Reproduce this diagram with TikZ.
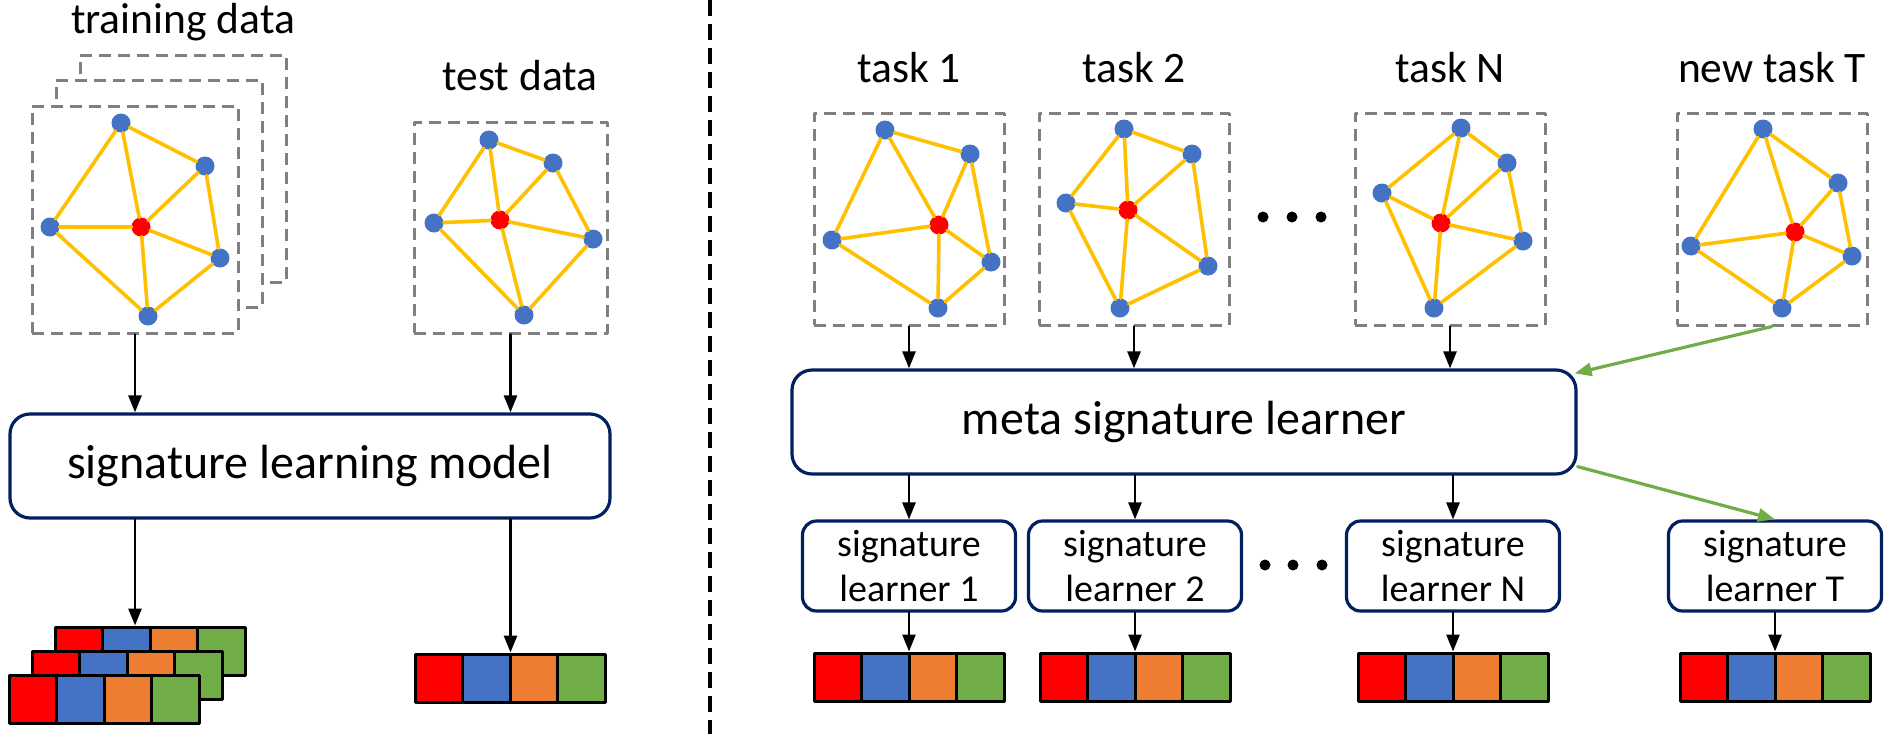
\documentclass[tikz,border=0pt]{standalone}
\usepackage{fontspec}
\setmainfont{Carlito}
\usepackage{tikz}
\usetikzlibrary{arrows.meta,calc}

\definecolor{sred}{RGB}{255,0,0}
\definecolor{sblue}{RGB}{68,114,196}
\definecolor{sorange}{RGB}{237,125,49}
\definecolor{sgreen}{RGB}{112,173,71}
\definecolor{sgold}{RGB}{255,192,0}
\definecolor{snavy}{RGB}{0,32,96}
\definecolor{sgray}{RGB}{127,127,127}

% one small graph: prefix, then points a b c (red) d e
\newcommand{\sgraph}[7]{%
  \node[bvtx] (#1a) at (#2) {};
  \node[bvtx] (#1b) at (#3) {};
  \node[bvtx] (#1c) at (#4) {};
  \node[rvtx] (#1r) at (#5) {};
  \node[bvtx] (#1d) at (#6) {};
  \node[bvtx] (#1e) at (#7) {};
  \foreach \u/\v in {a/c,a/b,a/r,b/r,b/d,c/r,c/e,r/d,r/e,d/e}
    \draw[gedge] (#1\u) -- (#1\v);
}
% one signature bar: name, left x, top y
\newcommand{\sigbar}[3]{%
  \foreach \c [count=\i] in {sred,sblue,sorange,sgreen}
    \node[cell,fill=\c] (#1\i) at ({#2+47.5*\i-23.75},{#3+24}) {};
}

\begin{document}
\begin{tikzpicture}[line cap=round,line join=round,>={Triangle[length=17pt,width=13pt]},x=1pt,y=-1pt,
  bvtx/.style={circle,fill=sblue,inner sep=0pt,minimum size=19pt},
  rvtx/.style={circle,fill=sred,inner sep=0pt,minimum size=19pt},
  gedge/.style={draw=sgold,line width=3.6pt},
  frame/.style={draw=sgray,fill=white,line width=3pt,line cap=butt,dash pattern=on 12pt off 7pt,inner sep=0pt,minimum width=190pt,minimum height=212pt},
  cell/.style={draw=black,line width=3pt,line cap=butt,inner sep=0pt,minimum width=47.5pt,minimum height=48pt},
  lbl/.style={font=\fontsize{43.5}{52}\selectfont,anchor=base,inner sep=0pt},
  bigbox/.style={draw=snavy,fill=white,line width=3.2pt,rounded corners=20pt,inner sep=0pt,font=\fontsize{48}{58}\selectfont},
  lrnbox/.style={draw=snavy,fill=white,line width=3.2pt,rounded corners=14pt,inner sep=0pt,minimum width=213pt,minimum height=90pt,align=center,font=\fontsize{38}{45.6}\selectfont},
  arr/.style={->,line width=2.6pt},
  garr/.style={->,draw=sgreen,line width=3.2pt},
  sepline/.style={line width=3.5pt,line cap=butt,dash pattern=on 16pt off 8pt}]
\useasboundingbox (0,0) rectangle (1884,734);
\fill[white] (0,0) rectangle (1884,734);
% left: single signature learning
\node[frame,minimum width=206pt,minimum height=227pt] (trback) at (183,168.5) {};
\node[frame,minimum width=206pt,minimum height=227pt] (trmid) at (159,193.5) {};
\node[frame,minimum width=206pt,minimum height=227pt] (trfront) at (135,219.5) {};
\node[frame,minimum width=193pt,minimum height=211pt] (test) at (510.5,227.5) {};
\sgraph{tr}{121,123}{205,166}{50,227}{141,227}{220,258}{148,316}
\sgraph{te}{489,140}{553,163}{434,223}{500,220}{593,239}{524,315}
\node[lbl] (lbltrain) at (183,33) {training data};
\node[lbl] (lbltest) at (520,90) {test data};
\node[bigbox,minimum width=600pt,minimum height=104pt] (slm) at (310,466) {signature learning model};
\draw[arr] (trfront.south) -- (trfront.south |- slm.north);
\draw[arr] (test.south) -- (test.south |- slm.north);
\sigbar{bk}{55}{627}
\sigbar{md}{32}{651}
\sigbar{ft}{9}{675}
\sigbar{tb}{415}{654}
\draw[arr] (trfront.south |- slm.south) -- (trfront.south |- bk2.north);
\draw[arr] (test.south |- slm.south) -- (test.south |- tb2.north);
% separator
\draw[sepline] (710,0) -- (710,734);
% right: meta signature learning
\node[frame] (tk1) at (909,219) {};
\node[frame] (tk2) at (1134,219) {};
\node[frame] (tkN) at (1450,219) {};
\node[frame] (tkT) at (1772,219) {};
\sgraph{ga}{885,130}{970,154}{832,240}{939,225}{991,262}{938,308}
\sgraph{gb}{1124,129}{1192,154}{1066,203}{1128,210}{1208,266}{1120,308}
\sgraph{gn}{1461,128}{1507,163}{1382,193}{1441,223}{1523,241}{1434,308}
\sgraph{gt}{1763,129}{1838,183}{1691,246}{1795,232}{1852,256}{1782,308}
\node[lbl] (lbl1) at (909,82) {task 1};
\node[lbl] (lbl2) at (1134,82) {task 2};
\node[lbl] (lblN) at (1450,82) {task N};
\node[lbl] (lblT) at (1772,82) {new task T};
\fill (1263,217) circle (5.5pt);
\fill (1292,217) circle (5.5pt);
\fill (1321,217) circle (5.5pt);
\node[bigbox,minimum width=784pt,minimum height=104pt] (meta) at (1184,422) {meta signature learner};
\coordinate (metaTR) at ($(meta.north east)+(-3,5)$);
\coordinate (metaBR) at ($(meta.south east)+(0,-9)$);
\draw[arr] (tk1.south) -- (tk1.south |- meta.north);
\draw[arr] (tk2.south) -- (tk2.south |- meta.north);
\draw[arr] (tkN.south) -- (tkN.south |- meta.north);
\draw[garr] (tkT.south) -- (metaTR);
\node[lrnbox] (l1) at (909,566) {signature\\learner 1};
\node[lrnbox] (l2) at (1135,566) {signature\\learner 2};
\node[lrnbox] (lN) at (1453,566) {signature\\learner N};
\node[lrnbox] (lT) at (1775,566) {signature\\learner T};
\fill (1265,565) circle (5.5pt);
\fill (1293,565) circle (5.5pt);
\fill (1322,565) circle (5.5pt);
\draw[arr] (l1.north |- meta.south) -- (l1.north);
\draw[arr] (l2.north |- meta.south) -- (l2.north);
\draw[arr] (lN.north |- meta.south) -- (lN.north);
\draw[garr] (metaBR) -- (lT.north);
\sigbar{s1}{814}{653}
\sigbar{s2}{1040}{653}
\sigbar{sN}{1358}{653}
\sigbar{sT}{1680}{653}
\draw[arr] (l1.south) -- (l1.south |- s12.north);
\draw[arr] (l2.south) -- (l2.south |- s22.north);
\draw[arr] (lN.south) -- (lN.south |- sN2.north);
\draw[arr] (lT.south) -- (lT.south |- sT2.north);
\end{tikzpicture}
\end{document}
